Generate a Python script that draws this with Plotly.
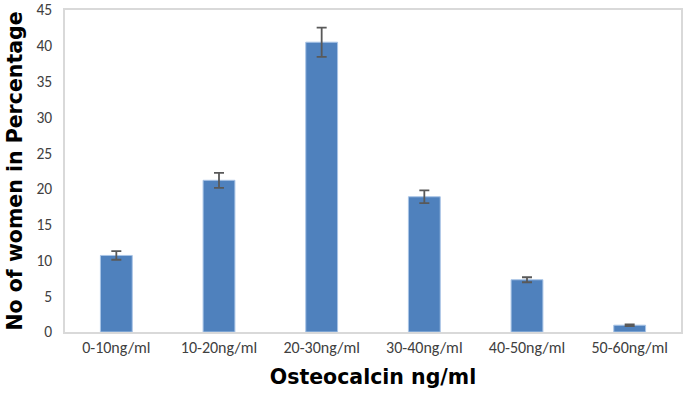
import plotly.graph_objects as go

categories = ["0-10ng/ml", "10-20ng/ml", "20-30ng/ml", "30-40ng/ml", "40-50ng/ml", "50-60ng/ml"]
values = [10.7, 21.2, 40.5, 18.9, 7.3, 0.95]
errors = [0.6, 1.05, 2.05, 0.9, 0.35, 0.12]
y_ticks = [0, 5, 10, 15, 20, 25, 30, 35, 40, 45]

fig = go.Figure()
fig.add_trace(go.Bar(
    x=categories, y=values,
    marker=dict(color="#4F81BD", line=dict(color="#A9C4E6", width=1)),
    error_y=dict(type="data", array=errors, visible=True, color="#595959", thickness=1.8, width=5),
))

fig.update_layout(
    width=685, height=402,
    margin=dict(l=65, r=4, t=10, b=70),
    paper_bgcolor="white", plot_bgcolor="white",
    bargap=0.69,
    showlegend=False,
    font=dict(family="Carlito, Open Sans, sans-serif", color="#404040", size=16),
    xaxis=dict(
        showline=True, linecolor="#D9D9D9", linewidth=1.5, mirror=True,
        showgrid=False, ticks="", tickfont=dict(size=16, color="#404040"),
        automargin=False,
        title=dict(text="<b>Osteocalcin ng/ml</b>", font=dict(family="DejaVu Sans, sans-serif", size=20.5, color="black"), standoff=14),
    ),
    yaxis=dict(
        range=[0, 45], tickvals=y_ticks,
        showline=True, linecolor="#D9D9D9", linewidth=1.5, mirror=True,
        showgrid=False, ticks="", tickfont=dict(size=15.5, color="#404040"),
        automargin=False, ticklabelstandoff=8, ticklabeloverflow="allow",
        title=dict(text="<b>No of women in Percentage</b>", font=dict(family="DejaVu Sans, sans-serif", size=20.5, color="black"), standoff=8),
    ),
)

fig.write_html(
    "out.html",
    config={"displayModeBar": False},
    post_script="document.body.style.margin='0';document.body.style.padding='0';",
)
